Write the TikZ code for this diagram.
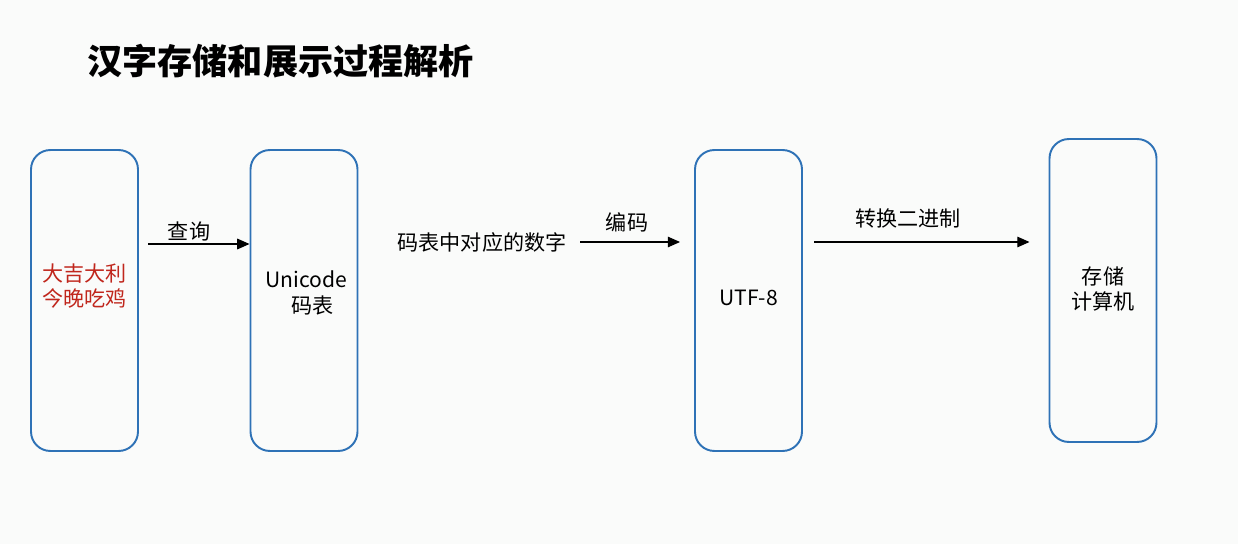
\documentclass[tikz,border=0pt]{standalone}
\usepackage{fontspec}
\setmainfont{Noto Sans CJK SC}
\usetikzlibrary{arrows.meta}
\definecolor{boxblue}{RGB}{46,114,182}
\definecolor{textred}{RGB}{192,38,28}
\definecolor{bgwhite}{RGB}{250,251,250}

\begin{document}
\begin{tikzpicture}[
    x=0.02cm, y=-0.02cm,
    block/.style={draw=boxblue, line width=1.1pt, rectangle, rounded corners=11pt,
      minimum width=2.14cm, minimum height=6.02cm},
    lbl/.style={font=\fontsize{12pt}{14.5pt}\selectfont, inner sep=1pt, align=center},
    flow/.style={-{Triangle[length=7pt, width=6pt]}, line width=0.8pt}
  ]
    % Background
    \fill[bgwhite] (0,0) rectangle (1238,544);
    \useasboundingbox (0,0) rectangle (1238,544);

    % Title
    \node[anchor=west, inner sep=0pt, font=\fontsize{20pt}{24pt}\selectfont\bfseries] at (87,61) (title) {汉字存储和展示过程解析};

    % Blocks
    \node[block] at (84.5,300.5)  (chars)    {};
    \node[block] at (304,300.5)   (unicode)  {};
    \node[block] at (748.5,300.5) (utf)      {};
    \node[block, minimum height=6.06cm] at (1103,290.5) (computer) {};

    % Block texts
    \node[lbl, text=textred] at (84.5,286) (charstext) {大吉大利\\今晚吃鸡};
    \node[lbl] at (306,293) (unicodetext)  {Unicode\\\hspace{0.6em}码表};
    \node[lbl] at (748.5,298) (utftext)    {UTF-8};
    \node[lbl] at (1103,289) (computertext) {存储\\计算机};

    % Labels
    \node[lbl] at (189,231) (query)  {查询};
    \node[lbl] at (482,242) (number) {码表中对应的数字};
    \node[lbl] at (627,222) (encode) {编码};
    \node[lbl] at (908,218) (binary) {转换二进制};

    % Connections
    \coordinate (s1) at (148,244);
    \coordinate (s2) at (580,242);
    \coordinate (s3) at (814,242);
    \draw[flow] (s1) -- (s1 -| unicode.west);
    \draw[flow] (s2) -- ([xshift=-0.28cm]s2 -| utf.west);
    \draw[flow] (s3) -- ([xshift=-0.38cm]s3 -| computer.west);

  \end{tikzpicture}
\end{document}
